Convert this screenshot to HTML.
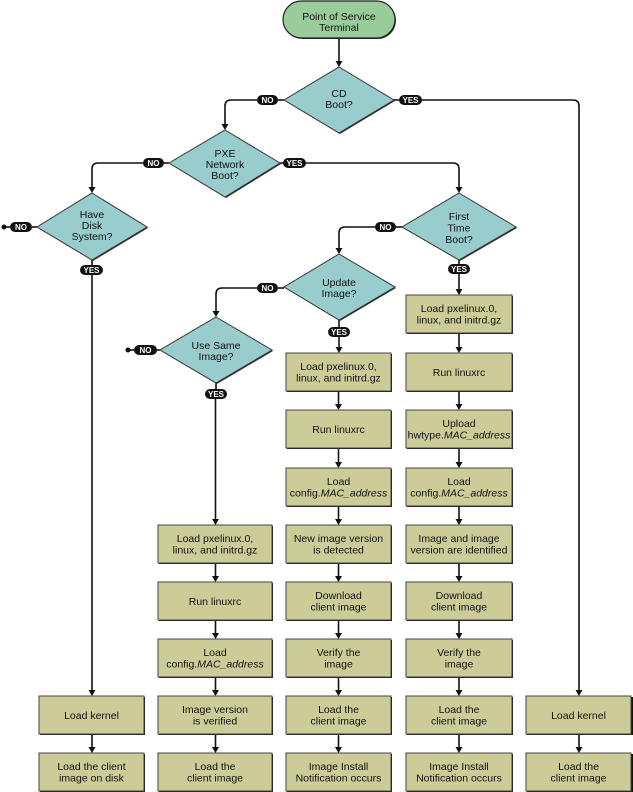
<!DOCTYPE html>
<html><head><meta charset="utf-8"><style>
html,body{margin:0;padding:0;background:#fff;}
svg{display:block;}
text{font-family:"Liberation Sans",sans-serif;font-size:10.5px;fill:#111;text-anchor:middle;}
.p{font-size:8px;font-weight:bold;fill:#fff;}
</style></head><body>
<svg width="633" height="792" viewBox="0 0 633 792" xmlns="http://www.w3.org/2000/svg">
<defs>
<g id="ah"><polygon points="-3.5,0 3.5,0 0,6" fill="#111"/></g>
</defs>
<g stroke="#111" stroke-width="1.6" fill="none">
<!-- terminal to CD -->
<line x1="339" y1="39" x2="339" y2="62"/>
<!-- CD NO -->
<line x1="278" y1="100" x2="284" y2="100"/>
<path d="M257,100 H231 Q225,100 225,106 V125"/>
<!-- CD YES -->
<line x1="394" y1="100" x2="399" y2="100"/>
<path d="M422,100 H573 Q579,100 579,106 V691"/>
<!-- PXE NO -->
<path d="M143,163 H98 Q92,163 92,169 V188"/>
<line x1="164" y1="163" x2="169" y2="163"/>
<!-- PXE YES -->
<line x1="280" y1="163" x2="283" y2="163"/>
<path d="M306,163 H453 Q459,163 459,169 V188"/>
<!-- Have Disk NO -->
<line x1="4" y1="227" x2="10" y2="227"/>
<line x1="32" y1="227" x2="37" y2="227"/>
<!-- Have Disk YES -->
<line x1="92" y1="260" x2="92" y2="265"/>
<line x1="92" y1="275" x2="92" y2="691"/>
<!-- First NO -->
<line x1="396" y1="227" x2="402" y2="227"/>
<path d="M375,227 H345 Q339,227 339,233 V249"/>
<!-- First YES -->
<line x1="459" y1="260" x2="459" y2="264"/>
<line x1="459" y1="274" x2="459" y2="290"/>
<!-- Update NO -->
<line x1="278" y1="288" x2="284" y2="288"/>
<path d="M257,288 H222 Q216,288 216,294 V312"/>
<!-- Update YES -->
<line x1="339" y1="320" x2="339" y2="327"/>
<line x1="339" y1="337" x2="339" y2="348"/>
<!-- Use Same NO -->
<line x1="128" y1="350" x2="134" y2="350"/>
<line x1="157" y1="350" x2="160" y2="350"/>
<!-- Use Same YES -->
<line x1="216" y1="383" x2="216" y2="389"/>
<line x1="215.5" y1="399" x2="215.5" y2="520"/>
<!-- col4 arrows -->
<line x1="459" y1="334" x2="459" y2="348"/>
<line x1="459" y1="392" x2="459" y2="405"/>
<line x1="459" y1="449" x2="459" y2="463"/>
<line x1="459" y1="507" x2="459" y2="520"/>
<line x1="459" y1="564" x2="459" y2="577"/>
<line x1="459" y1="621" x2="459" y2="634"/>
<line x1="459" y1="678" x2="459" y2="691"/>
<line x1="459" y1="735" x2="459" y2="748"/>
<!-- col3 arrows -->
<line x1="338.5" y1="392" x2="338.5" y2="405"/>
<line x1="338.5" y1="449" x2="338.5" y2="463"/>
<line x1="338.5" y1="507" x2="338.5" y2="520"/>
<line x1="338.5" y1="564" x2="338.5" y2="577"/>
<line x1="338.5" y1="621" x2="338.5" y2="634"/>
<line x1="338.5" y1="678" x2="338.5" y2="691"/>
<line x1="338.5" y1="735" x2="338.5" y2="748"/>
<!-- col2 arrows -->
<line x1="215.5" y1="564" x2="215.5" y2="577"/>
<line x1="215.5" y1="621" x2="215.5" y2="634"/>
<line x1="215.5" y1="678" x2="215.5" y2="691"/>
<line x1="215.5" y1="735" x2="215.5" y2="748"/>
<!-- col1 / col5 -->
<line x1="92" y1="735" x2="92" y2="748"/>
<line x1="579" y1="735" x2="579" y2="748"/>
</g>
<!-- arrowheads -->
<g fill="#111">
<use href="#ah" x="339" y="61"/>
<use href="#ah" x="225" y="124"/>
<use href="#ah" x="579" y="690"/>
<use href="#ah" x="92" y="187"/>
<use href="#ah" x="459" y="187"/>
<use href="#ah" x="92" y="690"/>
<use href="#ah" x="339" y="248"/>
<use href="#ah" x="459" y="289"/>
<use href="#ah" x="216" y="311"/>
<use href="#ah" x="339" y="347"/>
<use href="#ah" x="215.5" y="519"/>
<use href="#ah" x="459" y="347"/><use href="#ah" x="459" y="404"/><use href="#ah" x="459" y="462"/><use href="#ah" x="459" y="519"/><use href="#ah" x="459" y="576"/><use href="#ah" x="459" y="633"/><use href="#ah" x="459" y="690"/><use href="#ah" x="459" y="747"/>
<use href="#ah" x="338.5" y="404"/><use href="#ah" x="338.5" y="462"/><use href="#ah" x="338.5" y="519"/><use href="#ah" x="338.5" y="576"/><use href="#ah" x="338.5" y="633"/><use href="#ah" x="338.5" y="690"/><use href="#ah" x="338.5" y="747"/>
<use href="#ah" x="215.5" y="576"/><use href="#ah" x="215.5" y="633"/><use href="#ah" x="215.5" y="690"/><use href="#ah" x="215.5" y="747"/>
<use href="#ah" x="92" y="747"/><use href="#ah" x="579" y="747"/>
</g>
<!-- dots -->
<circle cx="4" cy="227" r="2.5" fill="#111"/>
<circle cx="128" cy="350" r="2.5" fill="#111"/>

<!-- terminal -->
<rect x="284" y="2" width="112" height="37" rx="18.5" fill="#222"/>
<rect x="283" y="1" width="112" height="37" rx="18.5" fill="#99cc99" stroke="#222" stroke-width="1.2"/>
<text x="339" y="20">Point of Service</text>
<text x="339" y="31">Terminal</text>

<!-- diamonds -->
<g stroke="#333" stroke-width="1">
<polygon points="340,68 395,101 340,134 285,101" fill="#333" stroke="none"/>
<polygon points="339,67 394,100 339,133 284,100" fill="#99cccc"/>
<polygon points="226,131 281,164 226,198 170,164" fill="#333" stroke="none"/>
<polygon points="225,130 280,163 225,197 169,163" fill="#99cccc"/>
<polygon points="93,194 148,228 93,261 38,228" fill="#333" stroke="none"/>
<polygon points="92,193 147,227 92,260 37,227" fill="#99cccc"/>
<polygon points="460,194 517,228 460,261 403,228" fill="#333" stroke="none"/>
<polygon points="459,193 516,227 459,260 402,227" fill="#99cccc"/>
<polygon points="340,255 396,288 340,321 285,288" fill="#333" stroke="none"/>
<polygon points="339,254 395,287 339,320 284,287" fill="#99cccc"/>
<polygon points="217,318 273,351 217,384 161,351" fill="#333" stroke="none"/>
<polygon points="216,317 272,350 216,383 160,350" fill="#99cccc"/>
</g>
<text x="339" y="97">CD</text><text x="339" y="108">Boot?</text>
<text x="225" y="157">PXE</text><text x="225" y="168">Network</text><text x="225" y="179">Boot?</text>
<text x="92" y="218">Have</text><text x="92" y="229">Disk</text><text x="92" y="240">System?</text>
<text x="459" y="220">First</text><text x="459" y="231.5">Time</text><text x="459" y="243">Boot?</text>
<text x="339" y="286">Update</text><text x="339" y="297">Image?</text>
<text x="216" y="349">Use Same</text><text x="216" y="360">Image?</text>

<!-- pills -->
<g fill="#111">
<rect x="257" y="95" width="21" height="10" rx="5"/>
<rect x="399" y="95" width="23" height="10" rx="5"/>
<rect x="143" y="158" width="21" height="10" rx="5"/>
<rect x="283" y="158" width="23" height="10" rx="5"/>
<rect x="10" y="222" width="22" height="10" rx="5"/>
<rect x="80" y="265" width="23" height="10" rx="5"/>
<rect x="375" y="222" width="21" height="10" rx="5"/>
<rect x="448" y="264" width="22" height="10" rx="5"/>
<rect x="257" y="283" width="21" height="10" rx="5"/>
<rect x="328" y="327" width="22" height="10" rx="5"/>
<rect x="134" y="345" width="23" height="10" rx="5"/>
<rect x="205" y="389" width="22" height="10" rx="5"/>
</g>
<text class="p" x="267.5" y="103">NO</text>
<text class="p" x="410.5" y="103">YES</text>
<text class="p" x="153.5" y="166">NO</text>
<text class="p" x="294.5" y="166">YES</text>
<text class="p" x="21" y="230">NO</text>
<text class="p" x="91.5" y="273">YES</text>
<text class="p" x="385.5" y="230">NO</text>
<text class="p" x="459" y="272">YES</text>
<text class="p" x="267.5" y="291">NO</text>
<text class="p" x="339" y="335">YES</text>
<text class="p" x="145.5" y="353">NO</text>
<text class="p" x="216" y="397">YES</text>

<!-- boxes: shadows -->
<g fill="#111">
<rect x="407" y="296" width="106" height="38"/><rect x="407" y="354" width="106" height="38"/><rect x="407" y="411" width="106" height="38"/><rect x="407" y="469" width="106" height="38"/><rect x="407" y="526" width="106" height="38"/><rect x="407" y="583" width="106" height="38"/><rect x="407" y="640" width="106" height="38"/><rect x="407" y="697" width="106" height="38"/><rect x="407" y="754" width="106" height="38"/>
<rect x="287" y="354" width="105" height="38"/><rect x="287" y="411" width="105" height="38"/><rect x="287" y="469" width="105" height="38"/><rect x="287" y="526" width="105" height="38"/><rect x="287" y="583" width="105" height="38"/><rect x="287" y="640" width="105" height="38"/><rect x="287" y="697" width="105" height="38"/><rect x="287" y="754" width="105" height="38"/>
<rect x="159" y="526" width="114" height="38"/><rect x="159" y="583" width="114" height="38"/><rect x="159" y="640" width="114" height="38"/><rect x="159" y="697" width="114" height="38"/><rect x="159" y="754" width="114" height="38"/>
<rect x="40" y="697" width="105" height="38"/><rect x="40" y="754" width="105" height="38"/>
<rect x="527" y="697" width="106" height="38"/><rect x="527" y="754" width="106" height="38"/>
</g>
<g fill="#cccc99" stroke="#444" stroke-width="1">
<rect x="406" y="295" width="106" height="38"/><rect x="406" y="353" width="106" height="38"/><rect x="406" y="410" width="106" height="38"/><rect x="406" y="468" width="106" height="38"/><rect x="406" y="525" width="106" height="38"/><rect x="406" y="582" width="106" height="38"/><rect x="406" y="639" width="106" height="38"/><rect x="406" y="696" width="106" height="38"/><rect x="406" y="753" width="106" height="38"/>
<rect x="286" y="353" width="105" height="38"/><rect x="286" y="410" width="105" height="38"/><rect x="286" y="468" width="105" height="38"/><rect x="286" y="525" width="105" height="38"/><rect x="286" y="582" width="105" height="38"/><rect x="286" y="639" width="105" height="38"/><rect x="286" y="696" width="105" height="38"/><rect x="286" y="753" width="105" height="38"/>
<rect x="158" y="525" width="114" height="38"/><rect x="158" y="582" width="114" height="38"/><rect x="158" y="639" width="114" height="38"/><rect x="158" y="696" width="114" height="38"/><rect x="158" y="753" width="114" height="38"/>
<rect x="39" y="696" width="105" height="38"/><rect x="39" y="753" width="105" height="38"/>
<rect x="526" y="696" width="105" height="38"/><rect x="526" y="753" width="105" height="38"/>
</g>

<!-- col4 text -->
<text x="459" y="312">Load pxelinux.0,</text><text x="459" y="323.5">linux, and initrd.gz</text>
<text x="459" y="376">Run linuxrc</text>
<text x="459" y="427">Upload</text><text x="459" y="438.5">hwtype.<tspan font-style="italic">MAC_address</tspan></text>
<text x="459" y="485">Load</text><text x="459" y="496.5">config.<tspan font-style="italic">MAC_address</tspan></text>
<text x="459" y="542">Image and image</text><text x="459" y="553.5">version are identified</text>
<text x="459" y="599">Download</text><text x="459" y="610.5">client image</text>
<text x="459" y="656">Verify the</text><text x="459" y="667.5">image</text>
<text x="459" y="713">Load the</text><text x="459" y="724.5">client image</text>
<text x="459" y="770">Image Install</text><text x="459" y="781.5">Notification occurs</text>

<!-- col3 text -->
<text x="338.5" y="370">Load pxelinux.0,</text><text x="338.5" y="381.5">linux, and initrd.gz</text>
<text x="338.5" y="433">Run linuxrc</text>
<text x="338.5" y="485">Load</text><text x="338.5" y="496.5">config.<tspan font-style="italic">MAC_address</tspan></text>
<text x="338.5" y="542">New image version</text><text x="338.5" y="553.5">is detected</text>
<text x="338.5" y="599">Download</text><text x="338.5" y="610.5">client image</text>
<text x="338.5" y="656">Verify the</text><text x="338.5" y="667.5">image</text>
<text x="338.5" y="713">Load the</text><text x="338.5" y="724.5">client image</text>
<text x="338.5" y="770">Image Install</text><text x="338.5" y="781.5">Notification occurs</text>

<!-- col2 text -->
<text x="215" y="542">Load pxelinux.0,</text><text x="215" y="553.5">linux, and initrd.gz</text>
<text x="215" y="605">Run linuxrc</text>
<text x="215" y="656">Load</text><text x="215" y="667.5">config.<tspan font-style="italic">MAC_address</tspan></text>
<text x="215" y="713">Image version</text><text x="215" y="724.5">is verified</text>
<text x="215" y="770">Load the</text><text x="215" y="781.5">client image</text>

<!-- col1 text -->
<text x="91.5" y="719">Load kernel</text>
<text x="91.5" y="770">Load the client</text><text x="91.5" y="781.5">image on disk</text>

<!-- col5 text -->
<text x="578.5" y="719">Load kernel</text>
<text x="578.5" y="770">Load the</text><text x="578.5" y="781.5">client image</text>
</svg>
</body></html>
